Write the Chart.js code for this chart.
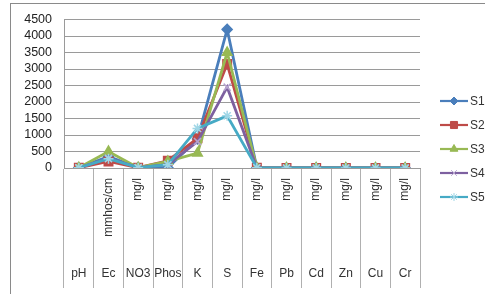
<!DOCTYPE html>
<html>
<head>
<meta charset="utf-8">
<script src="https://cdn.jsdelivr.net/npm/chart.js@4/dist/chart.umd.min.js"></script>
<style>
  html, body { margin: 0; padding: 0; background: #fff; }
  #wrap { position: relative; width: 485px; height: 294px; overflow: hidden; }
  #frame { position: absolute; left: 10px; top: 3px; width: 490px; height: 300px; border: 1px solid #8a8a8a; box-sizing: border-box; pointer-events: none; }
  canvas { position: absolute; left: 0; top: 0; }
</style>
</head>
<body>
<div id="wrap">
  <canvas id="chart" width="485" height="294"></canvas>
  <div id="frame"></div>
</div>
<script>
// parameters and their units
const params = ['pH', 'Ec', 'NO3', 'Phos', 'K', 'S', 'Fe', 'Pb', 'Cd', 'Zn', 'Cu', 'Cr'];
const units = ['', 'mmhos/cm', 'mg/l', 'mg/l', 'mg/l', 'mg/l', 'mg/l', 'mg/l', 'mg/l', 'mg/l', 'mg/l', 'mg/l'];

// sample values
const s1 = [7, 350, 10, 5, 880, 4200, 8, 0, 0, 0, 0, 0];
const s2 = [7, 200, 10, 220, 900, 3150, 8, 0, 0, 0, 0, 0];
const s3 = [7, 500, 10, 200, 450, 3500, 8, 0, 0, 0, 0, 0];
const s4 = [7, 300, 10, 100, 800, 2450, 8, 0, 0, 0, 0, 0];
const s5 = [7, 280, 10, 100, 1200, 1580, 8, 0, 0, 0, 0, 0];

const yMax = 4500;
const yStep = 500;

const FONT = '"Liberation Sans", Arial, sans-serif';

const series = [
  { label: 'S1', data: s1, color: '#4a7ebb', mark: '#4a7ebb', style: 'rectRot', r: 5 },
  { label: 'S2', data: s2, color: '#be4b48', mark: '#be4b48', style: 'rect', r: 6 },
  { label: 'S3', data: s3, color: '#98b954', mark: '#98b954', style: 'triangle', r: 5.5 },
  { label: 'S4', data: s4, color: '#7d60a0', mark: '#b7a4cf', style: 'crossRot', r: 5 },
  { label: 'S5', data: s5, color: '#46aac5', mark: '#9fd6e6', style: 'star', r: 5 }
];

// excel style legend: line with marker in the middle
const sideLegend = {
  id: 'sideLegend',
  afterDraw(chart) {
    const ctx = chart.ctx;
    chart.data.datasets.forEach((ds, i) => {
      const y = 101 + i * 24;
      ctx.save();
      ctx.strokeStyle = ds.borderColor;
      ctx.lineWidth = 2.2;
      ctx.beginPath();
      ctx.moveTo(440, y);
      ctx.lineTo(468, y);
      ctx.stroke();
      ctx.fillStyle = ds.pointBackgroundColor;
      ctx.strokeStyle = ds.pointBorderColor;
      ctx.lineWidth = 1;
      Chart.helpers.drawPoint(ctx, { pointStyle: ds.pointStyle, radius: ds.pointRadius - 1, borderWidth: 1, rotation: 0 }, 454, y);
      ctx.fillStyle = '#333';
      ctx.font = '12px ' + FONT;
      ctx.textBaseline = 'middle';
      ctx.textAlign = 'left';
      ctx.fillText(ds.label, 470, y + 1);
      ctx.restore();
    });
  }
};

new Chart(document.getElementById('chart'), {
  type: 'line',
  data: {
    labels: params,
    datasets: series.map((s, i) => ({
      label: s.label,
      data: s.data,
      borderColor: s.color,
      backgroundColor: s.mark,
      pointBackgroundColor: s.mark,
      pointBorderColor: s.mark,
      pointStyle: s.style,
      pointRadius: s.r,
      pointBorderWidth: 1.5,
      borderWidth: 2.8,
      tension: 0,
      order: 4 - i
    }))
  },
  options: {
    responsive: false,
    animation: false,
    devicePixelRatio: 1,
    layout: { padding: { left: 0, top: 18, right: 65, bottom: 6 } },
    plugins: { legend: { display: false }, tooltip: { enabled: false } },
    scales: {
      y: {
        min: 0,
        max: yMax,
        afterFit: (s) => { s.width = 64; },
        grid: { color: '#9a9a9a', lineWidth: 1, drawTicks: false },
        border: { display: true, color: '#9a9a9a' },
        ticks: {
          stepSize: yStep,
          autoSkip: false,
          padding: 12,
          color: '#222',
          font: { family: FONT, size: 12.5 },
          callback: (v) => String(v)
        }
      },
      x: {
        type: 'category',
        labels: units,
        offset: true,
        weight: 0,
        afterFit: (s) => { s.height = 98; },
        grid: { offset: true, drawOnChartArea: false, tickLength: 120, color: '#b0b0b0' },
        border: { display: true, color: '#9a9a9a' },
        ticks: { minRotation: 90, maxRotation: 90, autoSkip: false, padding: -110, color: '#333', font: { family: FONT, size: 12 } }
      },
      x2: {
        type: 'category',
        position: 'bottom',
        labels: params,
        offset: true,
        weight: 1,
        afterFit: (s) => { s.height = 22; },
        grid: { display: false, drawTicks: false },
        border: { display: false },
        ticks: { autoSkip: false, maxRotation: 0, padding: 0, color: '#333', font: { family: FONT, size: 12 } }
      }
    }
  },
  plugins: [sideLegend]
});
</script>
</body>
</html>
